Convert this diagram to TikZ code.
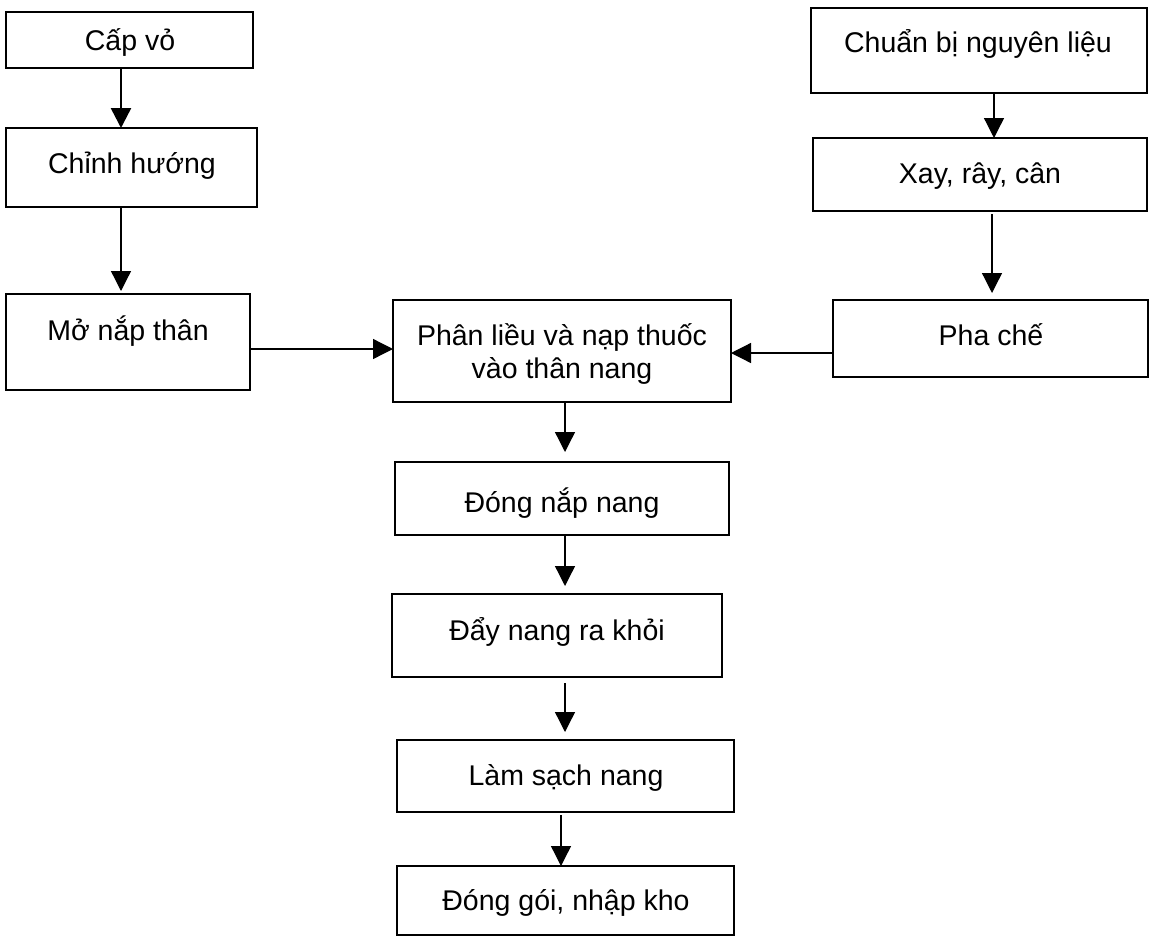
\documentclass[tikz,border=0pt]{standalone}
\usepackage{fontspec}
\setmainfont{Liberation Sans}
\usetikzlibrary{arrows.meta}
\begin{document}
\begin{tikzpicture}[x=1pt,y=-1pt,
  box/.style={draw=black,line width=1.5pt,inner sep=0pt,outer sep=0pt,rectangle},
  lbl/.style={anchor=base,inner sep=0pt,font=\fontsize{28.5}{34}\selectfont},
  arr/.style={draw=black,line width=1.3pt,-{Triangle[width=20pt,length=20pt]}}]
\useasboundingbox[fill=white] (0,0) rectangle (1153,937);
% left column
\node[box,minimum width=247pt,minimum height=56pt] (b1) at (129.5,40) {};
\node[box,minimum width=251pt,minimum height=79pt] (b2) at (131.5,167.5) {};
\node[box,minimum width=244pt,minimum height=96pt] (b3) at (128,342) {};
% right column
\node[box,minimum width=336pt,minimum height=85pt] (r1) at (979,50.5) {};
\node[box,minimum width=334pt,minimum height=73pt] (r2) at (980,174.5) {};
\node[box,minimum width=315pt,minimum height=77pt] (r3) at (990.5,338.5) {};
% centre column
\node[box,minimum width=338pt,minimum height=102pt] (c1) at (562,351) {};
\node[box,minimum width=334pt,minimum height=73pt] (c2) at (562,498.5) {};
\node[box,minimum width=330pt,minimum height=83pt] (c3) at (557,635.5) {};
\node[box,minimum width=337pt,minimum height=72pt] (c4) at (565.5,776) {};
\node[box,minimum width=337pt,minimum height=69pt] (c5) at (565.5,900.5) {};
% labels
\node[lbl] (t1) at (130,50) {Cấp vỏ};
\node[lbl] (t2) at (132,173) {Chỉnh hướng};
\node[lbl] (t3) at (128,340) {Mở nắp thân};
\node[lbl] (u1) at (978,52) {Chuẩn bị nguyên liệu};
\node[lbl] (u2) at (980,183) {Xay, rây, cân};
\node[lbl] (u3) at (991,345) {Pha chế};
\node[lbl] (s1a) at (562,345) {Phân liều và nạp thuốc};
\node[lbl] (s1b) at (562,378) {vào thân nang};
\node[lbl] (s2) at (562,512) {Đóng nắp nang};
\node[lbl] (s3) at (557,640) {Đẩy nang ra khỏi};
\node[lbl] (s4) at (566,785) {Làm sạch nang};
\node[lbl] (s5) at (566,910) {Đóng gói, nhập kho};
% connectors
\draw[arr,line width=2.5pt] ([xshift=-8.5pt]b1.south) -- ([xshift=-10.5pt]b2.north);
\draw[arr] ([xshift=-10.5pt]b2.south) -- ([xshift=-7pt,yshift=3pt]b3.north);
\draw[arr] ([yshift=-7pt]b3.east) -- ([yshift=2pt]c1.west);
\draw[arr] ([xshift=15pt]r1.south) -- ([xshift=14pt]r2.north);
\draw[arr,shorten <=3pt,shorten >=7pt] ([xshift=12pt]r2.south) -- ([xshift=1.5pt]r3.north);
\draw[arr] ([yshift=-14.5pt]r3.west) -- ([yshift=-2pt]c1.east);
\draw[arr,shorten >=10pt] ([xshift=3pt]c1.south) -- ([xshift=3pt]c2.north);
\draw[arr,shorten >=8pt] ([xshift=3pt]c2.south) -- ([xshift=8pt]c3.north);
\draw[arr,shorten <=6pt,shorten >=8pt] ([xshift=8pt]c3.south) -- ([xshift=-0.5pt]c4.north);
\draw[arr,shorten <=3pt] ([xshift=-4.5pt]c4.south) -- ([xshift=-4.5pt]c5.north);
\end{tikzpicture}
\end{document}
